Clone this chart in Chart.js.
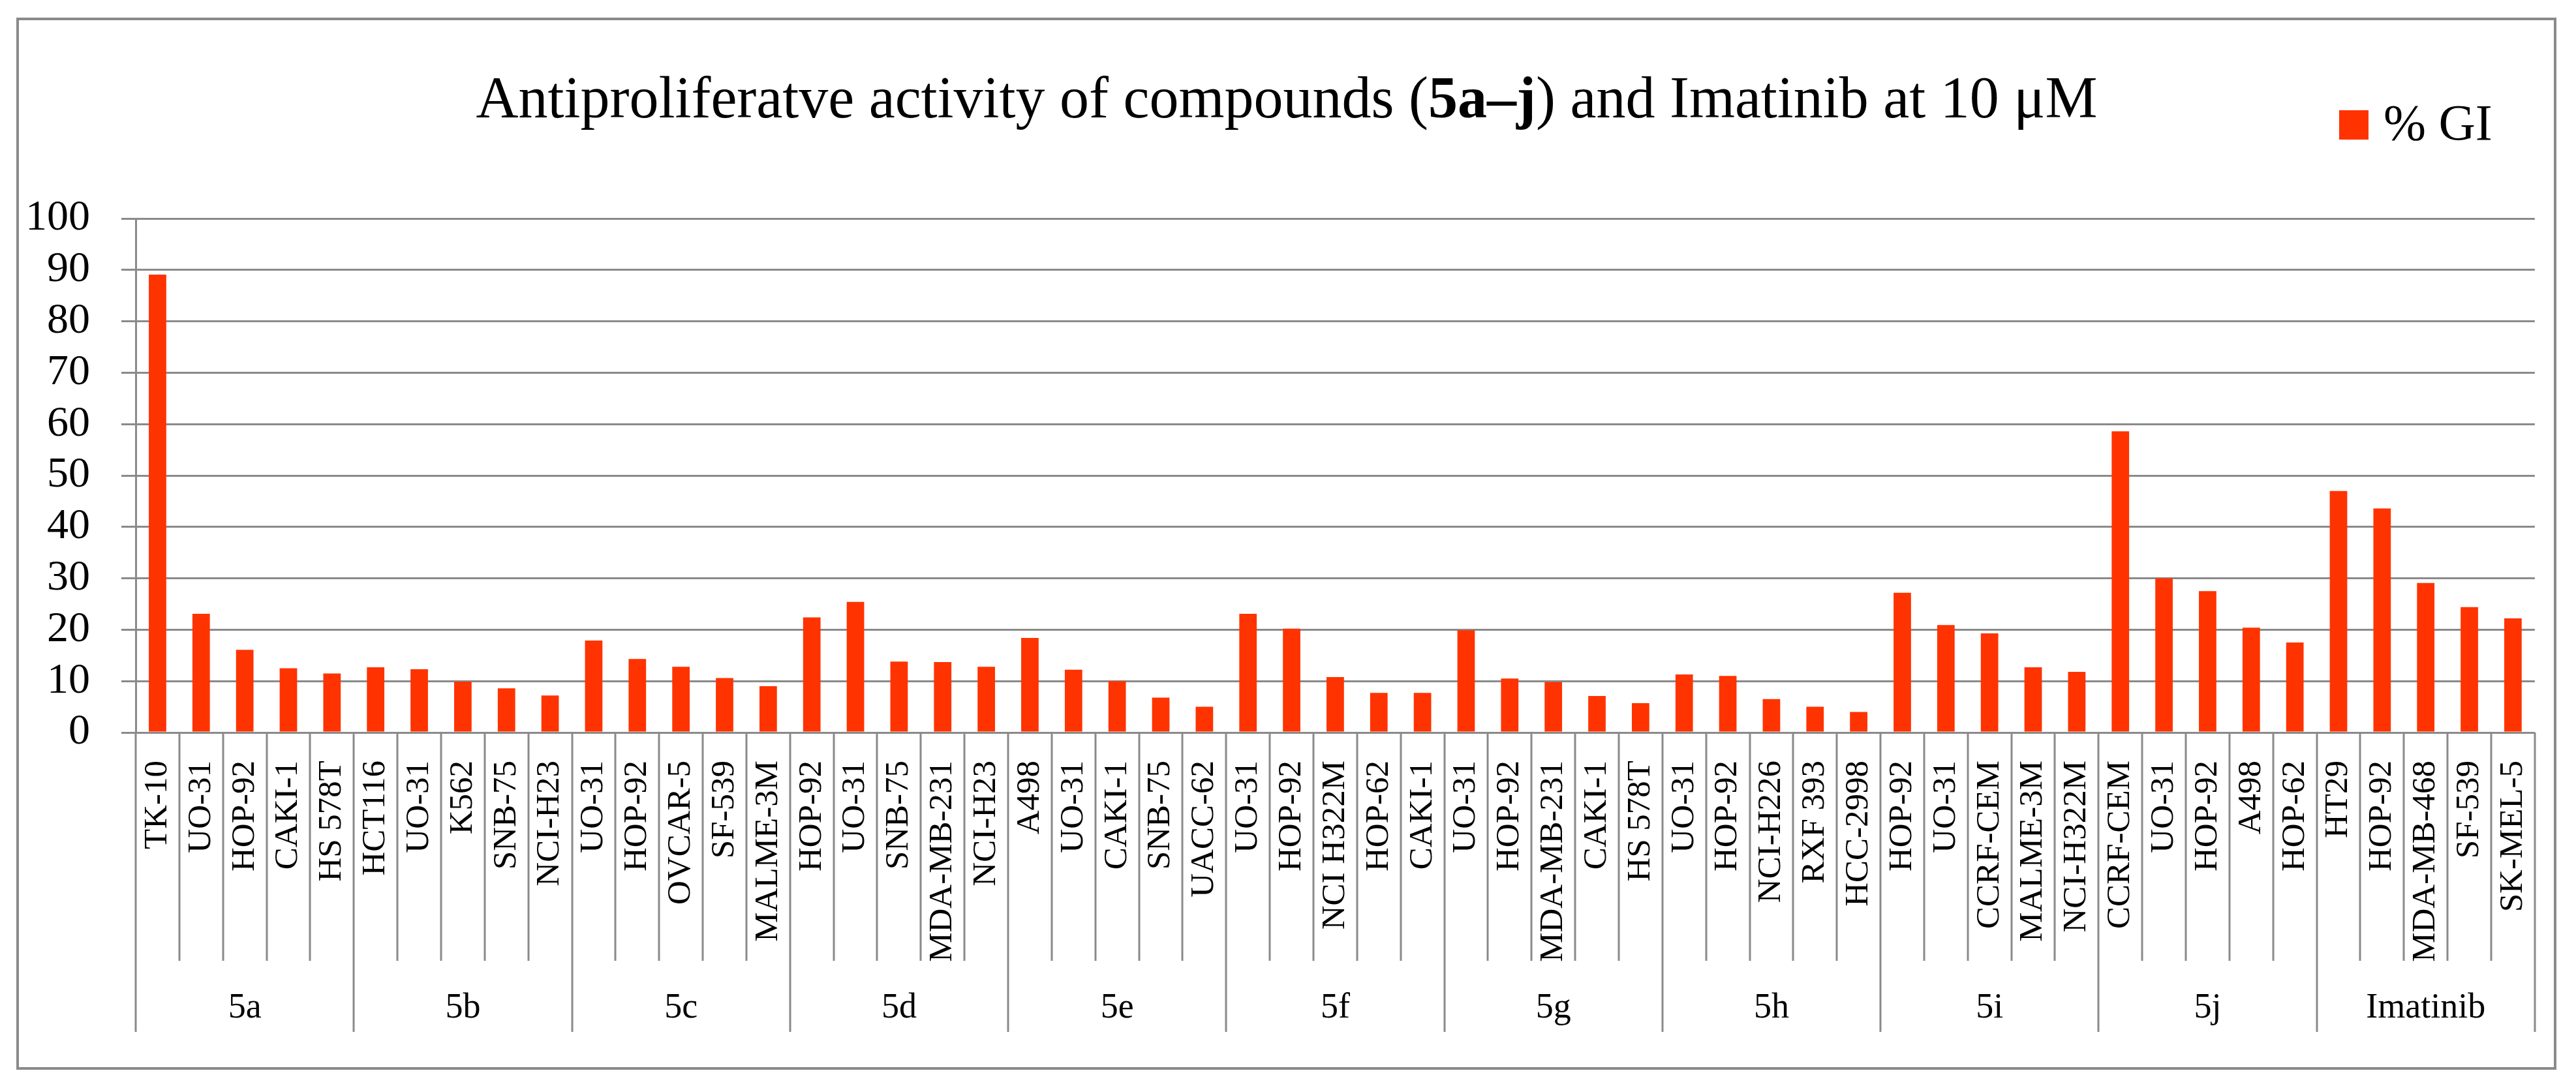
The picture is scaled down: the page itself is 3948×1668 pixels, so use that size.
<!DOCTYPE html>
<html>
<head>
<meta charset="utf-8">
<script src="https://cdn.jsdelivr.net/npm/chart.js@4.4.1/dist/chart.umd.min.js"></script>
<style>
  html, body { margin: 0; padding: 0; background: #ffffff; }
</style>
</head>
<body>
<canvas id="giChart" width="3948" height="1668"></canvas>
<script>
// compounds (second axis row) and the cell lines tested for each (first axis row)
const compounds = ["5a", "5b", "5c", "5d", "5e", "5f", "5g", "5h", "5i", "5j", "Imatinib"];
const linesPerCompound = 5;

const cellLines = [
    "TK-10", "UO-31", "HOP-92", "CAKI-1", "HS 578T",
    "HCT116", "UO-31", "K562", "SNB-75", "NCI-H23",
    "UO-31", "HOP-92", "OVCAR-5", "SF-539", "MALME-3M",
    "HOP-92", "UO-31", "SNB-75", "MDA-MB-231", "NCI-H23",
    "A498", "UO-31", "CAKI-1", "SNB-75", "UACC-62",
    "UO-31", "HOP-92", "NCI H322M", "HOP-62", "CAKI-1",
    "UO-31", "HOP-92", "MDA-MB-231", "CAKI-1", "HS 578T",
    "UO-31", "HOP-92", "NCI-H226", "RXF 393", "HCC-2998",
    "HOP-92", "UO-31", "CCRF-CEM", "MALME-3M", "NCI-H322M",
    "CCRF-CEM", "UO-31", "HOP-92", "A498", "HOP-62",
    "HT29", "HOP-92", "MDA-MB-468", "SF-539", "SK-MEL-5"
];

// % growth inhibition
const percentGI = [
    89.1, 23.1, 16.1, 12.5, 11.5,
    12.7, 12.3, 9.9, 8.6, 7.2,
    17.9, 14.3, 12.8, 10.6, 9.0,
    22.4, 25.4, 13.8, 13.7, 12.8,
    18.4, 12.2, 10.0, 6.8, 5.0,
    23.1, 20.2, 10.8, 7.7, 7.7,
    19.9, 10.5, 9.8, 7.1, 5.7,
    11.3, 11.0, 6.5, 5.0, 4.0,
    27.2, 20.9, 19.3, 12.7, 11.8,
    58.6, 30.0, 27.5, 20.4, 17.5,
    47.0, 43.6, 29.1, 24.4, 22.2
];

const FONT = "'Liberation Serif', 'DejaVu Serif', serif";
const GRID = "#8a8a8a";
const BAR = "#ff3300";

// frame, title with bold part, legend key, and the compound row of the axis
const decor = {
    id: "decor",
    afterDraw(chart) {
        const c = chart.ctx;
        const x = chart.scales.x;
        const area = chart.chartArea;
        c.save();

        // outer frame
        c.strokeStyle = GRID;
        c.lineWidth = 4;
        c.strokeRect(27, 29, 3889, 1609);

        // title
        const parts = [
            ["normal", "Antiproliferatve activity of compounds ("],
            ["bold", "5a–j"],
            ["normal", ") and Imatinib at 10 μM"]
        ];
        const size = 90;
        let total = 0;
        parts.forEach(p => {
            c.font = p[0] + " " + size + "px " + FONT;
            total += c.measureText(p[1]).width;
        });
        let tx = 1972 - total / 2;
        c.fillStyle = "#000";
        c.textBaseline = "alphabetic";
        c.textAlign = "left";
        parts.forEach(p => {
            c.font = p[0] + " " + size + "px " + FONT;
            c.fillText(p[1], tx, 180);
            tx += c.measureText(p[1]).width;
        });

        // legend
        const ds = chart.data.datasets[0];
        c.fillStyle = ds.backgroundColor;
        c.fillRect(3585, 169, 45, 45);
        c.fillStyle = "#000";
        c.font = "78px " + FONT;
        c.fillText(ds.label, 3653, 214);

        // separators under the axis and compound names
        const step = x.getPixelForValue(1) - x.getPixelForValue(0);
        c.strokeStyle = GRID;
        c.lineWidth = 3;
        for (let i = 0; i <= cellLines.length; i++) {
            const px = Math.round(x.getPixelForValue(0) - step / 2 + i * step);
            const isGroup = i % linesPerCompound === 0;
            c.beginPath();
            c.moveTo(px, area.bottom);
            c.lineTo(px, isGroup ? 1582 : 1473);
            c.stroke();
        }
        c.fillStyle = "#000";
        c.font = "54px " + FONT;
        c.textAlign = "center";
        c.textBaseline = "middle";
        compounds.forEach((name, g) => {
            const first = x.getPixelForValue(g * linesPerCompound);
            const last = x.getPixelForValue(g * linesPerCompound + linesPerCompound - 1);
            c.fillText(name, (first + last) / 2, 1546);
        });
        c.restore();
    }
};

new Chart(document.getElementById("giChart"), {
    type: "bar",
    data: {
        labels: cellLines,
        datasets: [
            {
                label: "% GI",
                data: percentGI,
                backgroundColor: BAR,
                barPercentage: 0.4,
                categoryPercentage: 1.0
            }
        ]
    },
    options: {
        responsive: false,
        animation: false,
        layout: {
            padding: { top: 335, right: 44, left: 0, bottom: 0 }
        },
        plugins: {
            legend: { display: false },
            title: { display: false },
            tooltip: { enabled: false }
        },
        scales: {
            x: {
                grid: { display: false },
                border: { display: false },
                ticks: {
                    autoSkip: false,
                    minRotation: 90,
                    maxRotation: 90,
                    padding: 35,
                    color: "#000",
                    font: { family: FONT, size: 51 }
                },
                afterFit(scale) {
                    scale.height = 545;
                }
            },
            y: {
                min: 0,
                max: 100,
                ticks: {
                    stepSize: 10,
                    autoSkip: false,
                    padding: 48,
                    color: "#000",
                    font: { family: FONT, size: 66 }
                },
                grid: { color: GRID, lineWidth: 3, tickLength: 22 },
                border: { color: GRID, width: 3 },
                afterFit(scale) {
                    scale.width = 208;
                }
            }
        }
    },
    plugins: [decor]
});
</script>
</body>
</html>
